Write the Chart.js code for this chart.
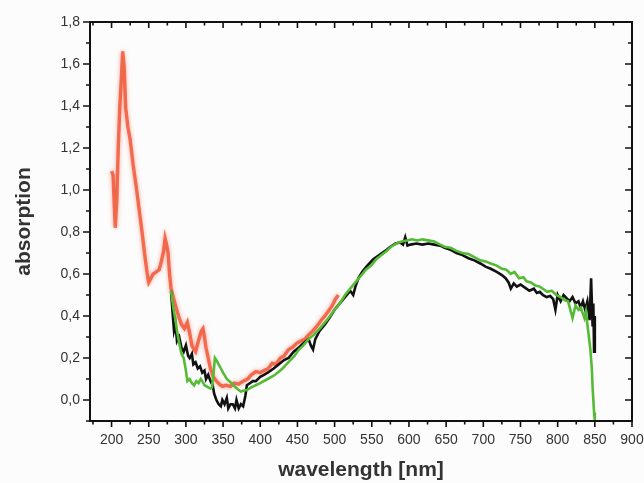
<!DOCTYPE html>
<html>
<head>
<meta charset="utf-8">
<script src="https://cdn.jsdelivr.net/npm/chart.js@4/dist/chart.umd.min.js"></script>
<style>
  html, body { margin:0; padding:0; background:#fcfcfc; }
  #wrap { width:644px; height:483px; }
</style>
</head>
<body>
<div id="wrap"><canvas id="absChart" width="644" height="483"></canvas></div>
<script>
// tick labels
const xTicks = [200,250,300,350,400,450,500,550,600,650,700,750,800,850,900];
const yTicks = [0.0,0.2,0.4,0.6,0.8,1.0,1.2,1.4,1.6,1.8];

// red spectrum (wavelength nm / absorption)
const redX = [200,202,205,207,209,211,213,215,217,219,222,225,229,233,237,241,245,248,250,253,256,260,264,267,270,272,274,276,278,280,283,286,290,294,298,302,305,308,311,313,316,319,321,323,325,327,330,333,337,341,345,349,354,360,365,371,377,383,388,394,400,405,411,416,421,427,432,438,443,449,454,460,465,471,476,482,487,493,497,501,505];
const redY = [1.09,1.07,0.82,0.95,1.2,1.39,1.52,1.66,1.58,1.39,1.3,1.24,1.12,1.02,0.91,0.8,0.68,0.6,0.56,0.58,0.6,0.61,0.62,0.66,0.71,0.77,0.74,0.7,0.6,0.53,0.49,0.45,0.4,0.36,0.34,0.37,0.32,0.26,0.24,0.23,0.27,0.31,0.33,0.34,0.3,0.25,0.2,0.15,0.11,0.09,0.075,0.065,0.07,0.065,0.08,0.075,0.09,0.1,0.12,0.135,0.13,0.14,0.15,0.175,0.17,0.2,0.21,0.24,0.25,0.27,0.28,0.29,0.31,0.33,0.35,0.38,0.4,0.43,0.45,0.48,0.5];

// black spectrum
const blackX = [280,282,284,286,288,291,294,297,300,303,305,308,310,313,316,319,322,325,327,330,333,336,338,341,344,347,349,352,355,357,360,363,366,368,371,374,377,380,382,386,390,394,400,405,410,418,425,432,438,445,452,458,465,468,471,474,480,487,493,500,507,514,521,525,528,532,537,544,552,560,568,575,582,588,592,595,598,602,610,618,626,634,642,648,656,664,672,680,688,696,703,710,718,725,730,734,737,741,745,750,756,762,768,772,776,780,785,790,794,797,800,804,808,812,816,820,824,828,831,834,837,840,843,845,847,848,849,850];
const blackY = [0.52,0.42,0.33,0.36,0.28,0.3,0.25,0.23,0.26,0.21,0.2,0.22,0.17,0.18,0.15,0.16,0.13,0.14,0.1,0.12,0.09,0.07,0.03,0.0,-0.02,-0.03,0.0,-0.02,0.01,-0.04,-0.02,-0.02,-0.04,0.0,-0.04,-0.02,-0.03,0.02,0.07,0.08,0.09,0.09,0.11,0.12,0.13,0.15,0.17,0.19,0.2,0.23,0.25,0.27,0.29,0.26,0.24,0.29,0.33,0.36,0.39,0.43,0.46,0.49,0.52,0.5,0.54,0.58,0.61,0.64,0.67,0.69,0.71,0.73,0.745,0.75,0.74,0.775,0.735,0.74,0.745,0.74,0.745,0.74,0.735,0.725,0.715,0.7,0.69,0.675,0.665,0.65,0.635,0.625,0.61,0.595,0.58,0.56,0.53,0.555,0.54,0.55,0.535,0.52,0.53,0.51,0.515,0.5,0.49,0.495,0.48,0.43,0.5,0.47,0.5,0.485,0.47,0.49,0.46,0.47,0.44,0.47,0.43,0.47,0.38,0.58,0.35,0.46,0.23,0.4];

// green spectrum
const greenX = [280,283,286,288,291,294,297,300,302,305,308,311,314,317,320,322,325,328,330,333,335,337,339,341,344,347,350,355,360,366,370,374,378,382,388,394,400,410,420,430,438,446,452,458,465,472,480,487,493,500,507,514,521,528,535,542,549,556,563,570,576,583,590,597,604,611,618,626,634,642,648,656,664,672,680,688,696,703,710,718,725,731,737,742,748,754,758,764,770,776,782,786,792,798,804,810,814,817,820,824,828,831,834,836,838,840,842,844,846,847,848,849,850];
const greenY = [0.52,0.44,0.38,0.33,0.27,0.22,0.2,0.14,0.09,0.1,0.08,0.07,0.09,0.08,0.1,0.09,0.07,0.065,0.06,0.055,0.06,0.12,0.2,0.19,0.17,0.15,0.13,0.1,0.085,0.063,0.05,0.04,0.045,0.048,0.06,0.07,0.08,0.1,0.12,0.15,0.18,0.21,0.24,0.26,0.29,0.31,0.34,0.37,0.395,0.43,0.46,0.5,0.53,0.56,0.59,0.62,0.64,0.67,0.69,0.71,0.73,0.745,0.755,0.76,0.765,0.76,0.765,0.76,0.755,0.74,0.73,0.725,0.71,0.7,0.695,0.68,0.665,0.66,0.65,0.64,0.625,0.62,0.6,0.61,0.58,0.585,0.565,0.56,0.545,0.54,0.525,0.515,0.52,0.5,0.49,0.475,0.47,0.43,0.39,0.45,0.43,0.44,0.41,0.39,0.42,0.36,0.3,0.24,0.15,0.06,0.0,-0.06,-0.1];

const xMin = 171, xMax = 900, yMin = -0.1, yMax = 1.8;

function pts(xs, ys){ return xs.map((x, i) => ({x: x, y: ys[i]})); }

// frame + inward/outward tick marks like the original plot
const framePlugin = {
  id: 'frame',
  beforeDraw(chart){
    const {ctx} = chart;
    ctx.save();
    ctx.fillStyle = '#fcfcfc';
    ctx.fillRect(0, 0, chart.width, chart.height);
    ctx.restore();
  },
  // soft glow on the red trace (it is blurred in the scan)
  beforeDatasetDraw(chart, args){
    if (chart.data.datasets[args.index].label !== 'red') return;
    chart.ctx.save();
    chart.ctx.shadowColor = 'rgba(245,110,80,0.7)';
    chart.ctx.shadowBlur = 4;
  },
  afterDatasetDraw(chart, args){
    if (chart.data.datasets[args.index].label !== 'red') return;
    chart.ctx.restore();
  },
  afterDatasetsDraw(chart){
    const {ctx, chartArea: a, scales} = chart;
    const xs = scales.x, ys = scales.y;
    ctx.save();
    ctx.strokeStyle = '#111';
    ctx.lineWidth = 2;
    ctx.strokeRect(a.left, a.top, a.right - a.left, a.bottom - a.top);
    ctx.lineWidth = 1.6;
    ctx.beginPath();
    for (let v = 175; v <= 900; v += 25) {
      const px = xs.getPixelForValue(v);
      const len = (v % 50 === 0) ? 6 : 3.5;
      ctx.moveTo(px, a.bottom); ctx.lineTo(px, a.bottom + len);
      ctx.moveTo(px, a.top); ctx.lineTo(px, a.top + len);
    }
    for (let k = -1; k <= 18; k++) {
      const v = k / 10;
      const py = ys.getPixelForValue(v);
      const len = (k % 2 === 0) ? 7 : 4;
      ctx.moveTo(a.left, py); ctx.lineTo(a.left - len, py);
      ctx.moveTo(a.right, py); ctx.lineTo(a.right - len, py);
    }
    ctx.stroke();
    ctx.restore();
  }
};

new Chart(document.getElementById('absChart'), {
  type: 'line',
  data: {
    datasets: [
      { label: 'green', data: pts(greenX, greenY), borderColor: '#55bb35', borderWidth: 2.6, pointRadius: 0, tension: 0, order: 1 },
      { label: 'black', data: pts(blackX, blackY), borderColor: '#111111', borderWidth: 2.6, pointRadius: 0, tension: 0, order: 2 },
      { label: 'red', data: pts(redX, redY), borderColor: 'rgba(240,88,58,0.85)', borderWidth: 3.4, pointRadius: 0, tension: 0, order: 3 }
    ]
  },
  options: {
    responsive: false,
    animation: false,
    layout: { padding: { left: 0, top: 22, right: 12, bottom: 0 } },
    plugins: { legend: { display: false }, tooltip: { enabled: false } },
    scales: {
      x: {
        type: 'linear', min: xMin, max: xMax,
        afterBuildTicks: s => { s.ticks = xTicks.map(v => ({value: v})); },
        afterFit: s => { s.height = 62; s.paddingRight = 0; },
        grid: { display: false },
        border: { display: false },
        ticks: { padding: 3, color: '#333', font: { family: 'Liberation Sans', size: 14 }, maxRotation: 0, autoSkip: false },
        title: { display: true, text: 'wavelength [nm]', color: '#333', padding: { top: 4, bottom: 0 }, font: { family: 'Liberation Sans', size: 21, weight: 'bold' } }
      },
      y: {
        min: yMin, max: yMax,
        afterBuildTicks: s => { s.ticks = yTicks.map(v => ({value: v})); },
        afterFit: s => { s.width = 90; },
        grid: { display: false },
        border: { display: false },
        ticks: { padding: 2, color: '#333', font: { family: 'Liberation Sans', size: 14 },
          callback: v => v.toFixed(1).replace('.', ',') },
        title: { display: true, text: 'absorption', color: '#333', padding: { top: 12, bottom: 0 }, font: { family: 'Liberation Sans', size: 21, weight: 'bold' } }
      }
    }
  },
  plugins: [framePlugin]
});
</script>
</body>
</html>
